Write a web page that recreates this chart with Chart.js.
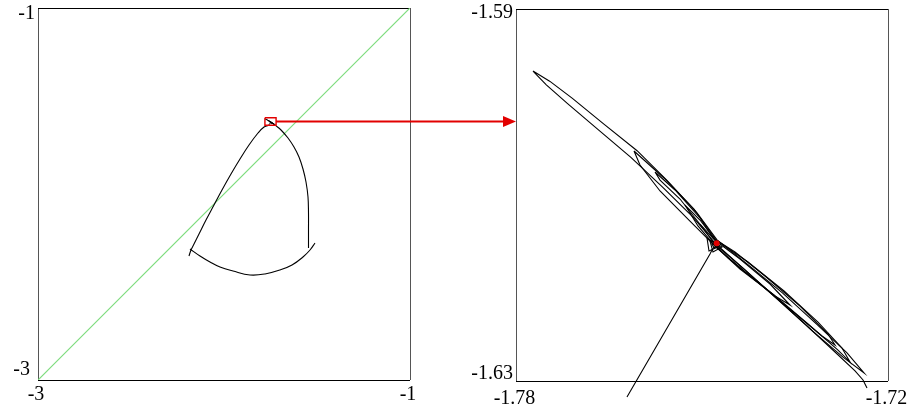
<!DOCTYPE html>
<html><head><meta charset="utf-8">
<script src="https://cdn.jsdelivr.net/npm/chart.js@4.4.1/dist/chart.umd.min.js"></script>
<style>
html,body{margin:0;padding:0;background:#fff;}
#wrap{position:relative;width:907px;height:412px;overflow:hidden;background:#fff}
canvas{position:absolute;top:0}
</style>
</head><body>
<div id="wrap">
<canvas id="left" width="907" height="412" style="left:0"></canvas>
<canvas id="right" width="467" height="412" style="left:440px"></canvas>
</div>
<script>
// ---------- tick values / labels ----------
const leftXTicks = [-3, -1];
const leftXLabels = ['-3', '-1'];
const leftYTicks = [-3, -1];
const leftYLabels = ['-3 ', '-1'];
const rightXTicks = [-1.78, -1.72];
const rightXLabels = ['-1.78', '-1.72'];
const rightYTicks = [-1.63, -1.59];
const rightYLabels = ['-1.63', '-1.59'];

// ---------- left panel series ----------
const diagX = [-3, -1];
const diagY = [-3, -1];
const leftBranchX = [-2.1882, -2.1774, -2.1613, -2.1344, -2.0968, -2.0538, -2.0108, -1.9624, -1.9140, -1.8656, -1.8172, -1.7849, -1.7621];
const leftBranchY = [-2.3333, -2.3011, -2.2688, -2.2151, -2.1398, -2.0591, -1.9785, -1.8925, -1.8118, -1.7366, -1.6720, -1.6398, -1.6317];
const bottomArcX = [-2.1828, -2.1290, -2.0753, -2.0215, -1.9516, -1.8602, -1.7796, -1.6989, -1.6344, -1.5753, -1.5376, -1.5108];
const bottomArcY = [-2.2957, -2.3333, -2.3656, -2.3925, -2.4140, -2.4355, -2.4301, -2.4086, -2.3817, -2.3387, -2.3011, -2.2634];
const rightBranchX = [-1.72339, -1.6935, -1.6559, -1.6237, -1.5968, -1.5753, -1.5591, -1.5484, -1.5457, -1.5457, -1.5457];
const rightBranchY = [-1.63075, -1.6559, -1.6989, -1.7473, -1.8011, -1.8656, -1.9355, -2.0161, -2.1022, -2.1935, -2.2903];
const boxX = [-1.78, -1.72, -1.72, -1.78, -1.78];
const boxY = [-1.59, -1.59, -1.63, -1.63, -1.59];

// ---------- zoomed attractor series ----------
const incomingX = [-1.76210, -1.75540, -1.74871, -1.74839, -1.74806];
const incomingY = [-1.63172, -1.62403, -1.61634, -1.61591, -1.61559];
const loop1X = [-1.77726, -1.77457, -1.77090, -1.76602, -1.76047, -1.75553, -1.75081, -1.74758, -1.74274, -1.73698, -1.73134, -1.72661, -1.72387, -1.72726, -1.73221, -1.73786, -1.74339, -1.74790, -1.75145, -1.75640, -1.76147, -1.76689, -1.77168, -1.77511, -1.77726];
const loop1Y = [-1.59667, -1.59776, -1.59961, -1.60227, -1.60524, -1.60851, -1.61191, -1.61483, -1.61740, -1.62055, -1.62399, -1.62697, -1.62914, -1.62744, -1.62461, -1.62117, -1.61787, -1.61517, -1.61239, -1.60913, -1.60595, -1.60289, -1.60017, -1.59815, -1.59667];
const loop2X = [-1.76097, -1.75613, -1.75129, -1.74774, -1.74258, -1.73677, -1.73129, -1.72742, -1.72613, -1.72806, -1.73290, -1.73839, -1.74387, -1.74806, -1.75194, -1.75677, -1.76000, -1.76097];
const loop2Y = [-1.60527, -1.60817, -1.61151, -1.61484, -1.61720, -1.62032, -1.62366, -1.62645, -1.62796, -1.62667, -1.62387, -1.62075, -1.61796, -1.61538, -1.61280, -1.60957, -1.60677, -1.60527];
const loop3X = [-1.75758, -1.75435, -1.75032, -1.74823, -1.74468, -1.73984, -1.73419, -1.72968, -1.72855, -1.73065, -1.73548, -1.74065, -1.74581, -1.74774, -1.74984, -1.75355, -1.75677, -1.75758];
const loop3Y = [-1.60753, -1.60946, -1.61247, -1.61462, -1.61613, -1.61871, -1.62194, -1.62495, -1.62613, -1.62516, -1.62247, -1.61957, -1.61677, -1.61548, -1.61355, -1.61043, -1.60839, -1.60753];
const loop4X = [-1.75274, -1.75032, -1.74774, -1.74387, -1.73903, -1.73581, -1.73823, -1.74306, -1.74774, -1.75065, -1.75274];
const loop4Y = [-1.61108, -1.61269, -1.61495, -1.61688, -1.61957, -1.62183, -1.62086, -1.61828, -1.61559, -1.61333, -1.61108];
const knotX = [-1.75032, -1.74710, -1.74887, -1.74919, -1.74677, -1.74823, -1.74871, -1.74726, -1.74806, -1.74839, -1.74758];
const knotY = [-1.61312, -1.61548, -1.61602, -1.61462, -1.61559, -1.61613, -1.61495, -1.61516, -1.61570, -1.61527, -1.61516];
const exitX = [-1.74774, -1.74306, -1.73823, -1.73339, -1.72855, -1.72532, -1.72403, -1.72339];
const exitY = [-1.61538, -1.61806, -1.62097, -1.62387, -1.62688, -1.62892, -1.62989, -1.63075];
const fixedX = [-1.74763];
const fixedY = [-1.61519];

// ---------- helpers ----------
const RED = 'rgb(226,0,0)';
const FONT = 'Liberation Serif';
function pts(xs, ys) { return xs.map((x, i) => ({ x: x, y: ys[i] })); }
function lineDs(xs, ys, extra) {
  return Object.assign({
    data: pts(xs, ys), showLine: true, pointRadius: 0, pointHoverRadius: 0,
    borderColor: '#000', borderWidth: 1.1, fill: false, tension: 0
  }, extra || {});
}
function zoomSets(extra) {
  return [
    lineDs(knotX, knotY, extra),
    lineDs(incomingX, incomingY, extra),
    lineDs(exitX, exitY, extra),
    lineDs(loop1X, loop1Y, extra),
    lineDs(loop2X, loop2Y, extra),
    lineDs(loop3X, loop3Y, extra),
    lineDs(loop4X, loop4Y, extra)
  ];
}
function noPad(s) { s.paddingLeft = 0; s.paddingRight = 0; s.paddingTop = 0; s.paddingBottom = 0; }
function makeScales(xTicks, xLabels, yTicks, yLabels, geo) {
  return {
    x: {
      type: 'linear', bounds: 'data', min: xTicks[0], max: xTicks[1],
      afterBuildTicks: s => { s.ticks = xTicks.map(v => ({ value: v })); },
      afterFit: s => { s.height = geo.xh; noPad(s); },
      grid: { color: '#555', lineWidth: 1, drawTicks: false },
      border: { display: false },
      ticks: {
        autoSkip: false, maxRotation: 0, color: '#000', padding: geo.xpad, labelOffset: geo.xoff,
        font: { family: FONT, size: 20, lineHeight: '24px' },
        callback: (v, i) => xLabels[i]
      }
    },
    y: {
      type: 'linear', bounds: 'data', min: yTicks[0], max: yTicks[1],
      afterBuildTicks: s => { s.ticks = yTicks.map(v => ({ value: v })); },
      afterFit: s => { s.width = geo.yw; noPad(s); },
      grid: { color: '#000', lineWidth: 1, drawTicks: false },
      border: { display: false },
      ticks: {
        autoSkip: false, color: '#000', padding: 3,
        font: ctx => ({ family: FONT, size: 20, lineHeight: ctx.index === 1 ? geo.topLH : geo.botLH }),
        callback: (v, i) => i === 1 ? ['', yLabels[i]] : [yLabels[i], '']
      }
    }
  };
}
const common = {
  responsive: false, animation: false, events: [],
  plugins: { legend: { display: false }, tooltip: { enabled: false } }
};

// ---------- right chart (zoom) ----------
const rightChart = new Chart(document.getElementById('right'), {
  type: 'scatter',
  data: {
    datasets: [
      { data: pts(fixedX, fixedY), pointRadius: 3, pointBackgroundColor: RED, pointBorderWidth: 0, showLine: false, clip: false }
    ].concat(zoomSets({ clip: false }))
  },
  options: Object.assign({}, common, {
    layout: { autoPadding: false, padding: { left: 0, top: 9, right: 19, bottom: 0 } },
    scales: makeScales(rightXTicks, rightXLabels, rightYTicks, rightYLabels,
      { xh: 31, yw: 76, xpad: 5.5, xoff: -1.5, topLH: '7px', botLH: '14px' })
  })
});

// ---------- left chart (overview) with arrow ----------
const arrowPlugin = {
  id: 'zoomArrow',
  afterDatasetsDraw(chart) {
    const xs = chart.scales.x, ys = chart.scales.y;
    const x0 = xs.getPixelForValue(boxX[1]);
    const y0 = ys.getPixelForValue((boxY[0] + boxY[2]) / 2);
    const x1 = 440 + rightChart.chartArea.left;
    const ctx = chart.ctx;
    ctx.save();
    ctx.strokeStyle = RED; ctx.fillStyle = RED; ctx.lineWidth = 2;
    ctx.beginPath(); ctx.moveTo(x0, y0); ctx.lineTo(x1 - 12, y0); ctx.stroke();
    ctx.beginPath(); ctx.moveTo(x1, y0); ctx.lineTo(x1 - 13, y0 - 5.5); ctx.lineTo(x1 - 13, y0 + 5.5); ctx.closePath(); ctx.fill();
    ctx.restore();
  }
};
new Chart(document.getElementById('left'), {
  type: 'scatter',
  data: {
    datasets: [
      lineDs(boxX, boxY, { borderColor: RED, borderWidth: 1.4 })
    ].concat(zoomSets({ borderWidth: 1 })).concat([
      lineDs(leftBranchX, leftBranchY, { tension: 0.4 }),
      lineDs(bottomArcX, bottomArcY, { tension: 0.4 }),
      lineDs(rightBranchX, rightBranchY, { tension: 0.4 }),
      lineDs(diagX, diagY, { borderColor: 'rgb(125,220,125)', borderWidth: 1.2 })
    ])
  },
  options: Object.assign({}, common, {
    layout: { autoPadding: false, padding: { left: 0, top: 8, right: 497, bottom: 0 } },
    scales: makeScales(leftXTicks, leftXLabels, leftYTicks, leftYLabels,
      { xh: 32, yw: 38, xpad: 2.5, xoff: -2, topLH: '11px', botLH: '20.6px' })
  }),
  plugins: [arrowPlugin]
});
</script>
</body></html>
